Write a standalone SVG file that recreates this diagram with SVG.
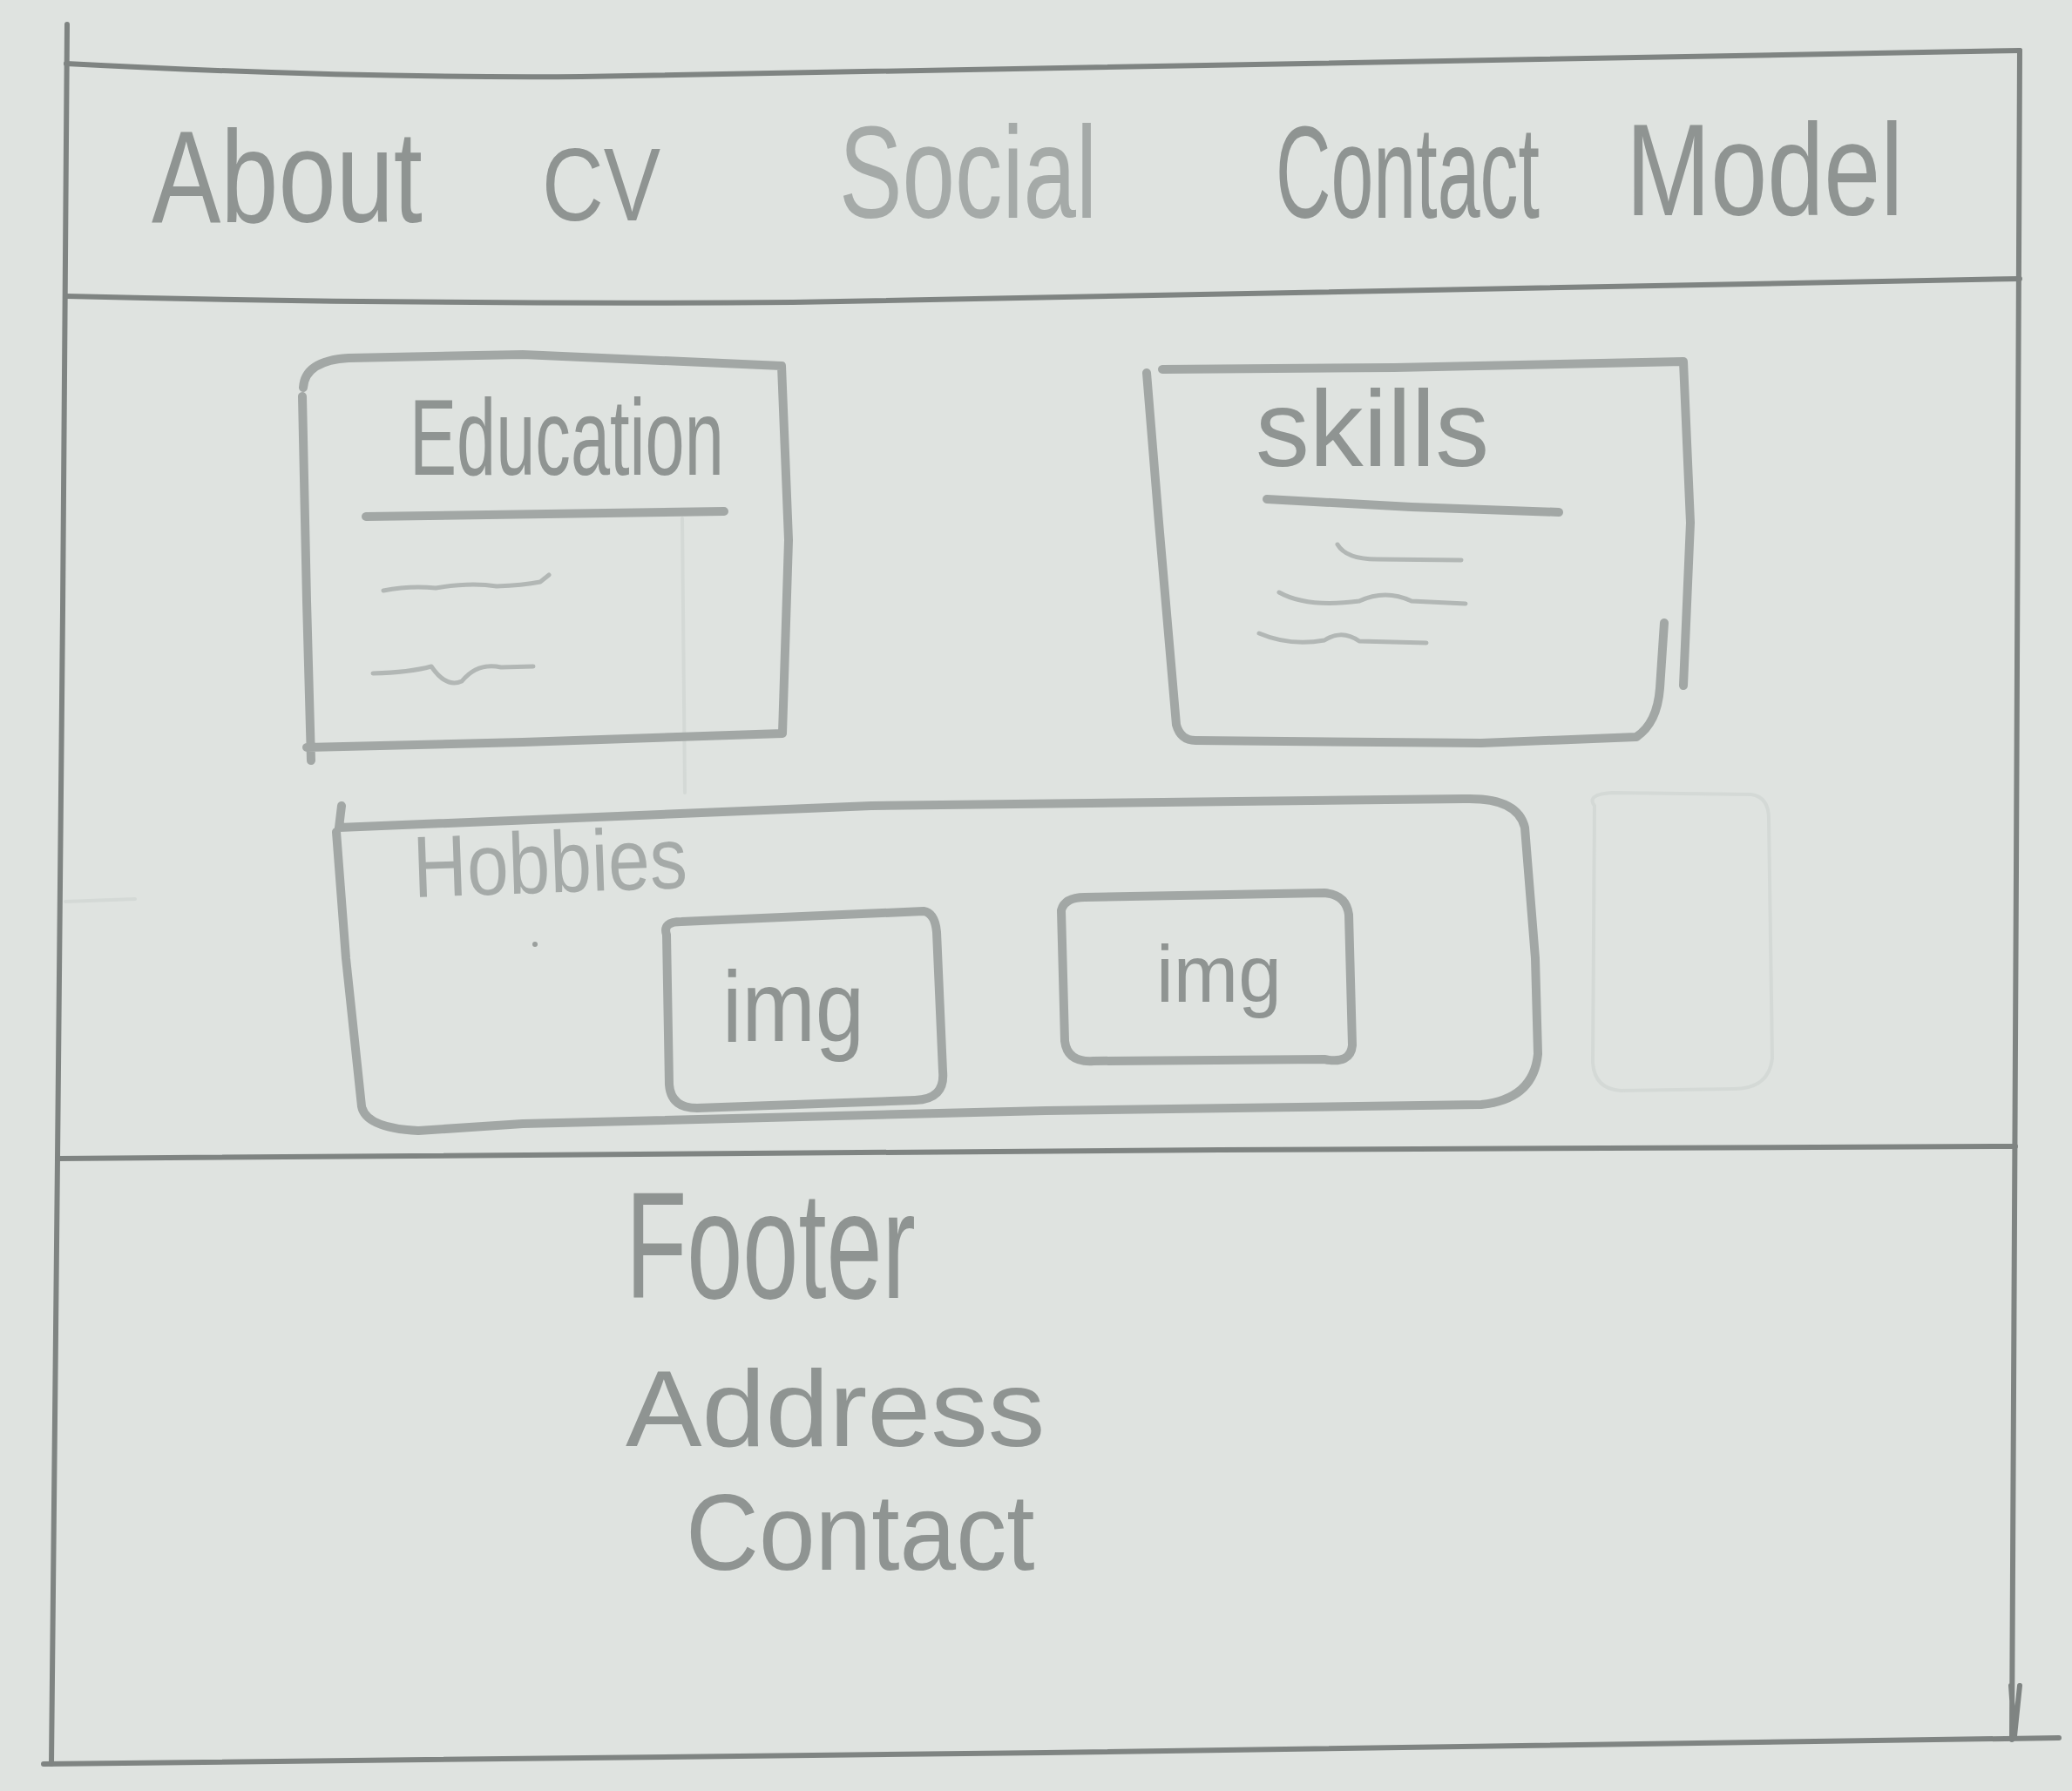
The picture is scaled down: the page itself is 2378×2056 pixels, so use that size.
<svg xmlns="http://www.w3.org/2000/svg" width="2378" height="2056" viewBox="0 0 2378 2056">
<style>
.frame{fill:none;stroke:#7f8482;stroke-width:6;stroke-linecap:round;stroke-linejoin:round}
.box{fill:none;stroke:#a2a7a5;stroke-width:10;stroke-linecap:round;stroke-linejoin:round}
.thin{fill:none;stroke:#b2b7b5;stroke-width:5;stroke-linecap:round;stroke-linejoin:round}
.faint{fill:none;stroke:#d4d9d6;stroke-width:4;stroke-linecap:round}
.t{font-family:"Liberation Sans","DejaVu Sans",sans-serif;fill:#8f9492}
.tl{font-family:"Liberation Sans","DejaVu Sans",sans-serif;fill:#a5aaa8}
</style>
<rect x="0" y="0" width="2378" height="2056" fill="#dfe3e0"/>
<g id="faint-marks">
<path class="faint" d="M1830,925 Q1820,912 1850,910 L2010,912 Q2030,915 2030,940 L2034,1215 Q2030,1250 1990,1250 L1860,1252 Q1830,1250 1828,1220 Z"/>
<path class="faint" d="M783,595 L786,910"/>
<path class="faint" d="M75,1035 L155,1032"/>
</g>
<g id="page-frame">
<path class="frame" d="M77,28 L72,700 L66,1330 L59,2025"/>
<path class="frame" stroke-width="9" d="M76,73 Q400,90 667,88 Q1500,70 2318,58"/>
<path class="frame" d="M2318,58 L2314,1000 L2309,1997 M2308,1935 L2312,1993 L2318,1935"/>
<path class="frame" d="M50,2025 L1200,2012 L2363,1995"/>
</g>
<g id="header">
<path class="frame" stroke="#9a9f9d" stroke-width="9" d="M76,340 Q500,350 910,347 Q1600,336 2318,320"/>
<text class="t" font-size="150" transform="translate(174,255) scale(0.793,1)">About</text>
<text class="t" font-size="118" transform="translate(622,253) scale(0.83,1)">CV</text>
<text class="tl" font-size="150" transform="translate(963,250) scale(0.725,1)">Social</text>
<text class="t" font-size="150" transform="translate(1464,250) scale(0.586,1)">Contact</text>
<text class="t" font-size="150" transform="translate(1866,247) scale(0.779,1)">Model</text>
</g>
<g id="education">
<path class="box" d="M348,445 Q350,414 400,411 L600,407 L897,420 L905,620 L898,842 L600,852 L352,858 M347,455 L352,690 L357,873"/>
<text class="t" font-size="125" transform="translate(470,545) scale(0.649,1)">Education</text>
<path class="box" d="M420,593 L831,587"/>
<path class="thin" d="M440,678 Q470,672 500,675 Q540,668 570,673 Q600,672 620,668 L630,660"/>
<path class="thin" d="M428,773 Q470,772 495,765 Q512,790 530,782 Q548,760 575,766 L612,765"/>
</g>
<g id="skills">
<path class="box" d="M1334,424 L1600,422 L1932,415 L1940,600 L1932,787 M1316,428 L1330,600 L1350,832 Q1355,850 1372,850 L1700,853 L1878,846 Q1902,830 1905,790 L1910,715"/>
<text class="t" font-size="125" transform="translate(1441,535) scale(0.99,1)">skills</text>
<path class="box" d="M1454,573 L1620,582 L1789,588"/>
<path class="thin" d="M1535,625 Q1545,642 1580,642 L1677,643"/>
<path class="thin" d="M1468,680 Q1500,698 1560,690 Q1590,676 1620,690 L1682,693"/>
<path class="thin" d="M1445,727 Q1480,742 1520,735 Q1540,722 1560,736 L1637,738"/>
</g>
<g id="hobbies">
<path class="box" d="M392,925 L389,950 L1000,925 L1680,917 Q1742,915 1750,950 L1762,1100 L1765,1210 Q1760,1262 1700,1268 L1200,1275 L600,1290 L480,1298 Q420,1295 415,1270 L397,1100 L386,955"/>
<text class="tl" font-size="100" transform="translate(475,1030) rotate(-2) scale(0.858,1)">Hobbies</text>
<circle cx="614" cy="1084" r="3" fill="#9a9f9d"/>
</g>
<g id="img1">
<path class="box" d="M765,1073 Q760,1058 782,1058 L1060,1046 Q1073,1048 1075,1070 L1082,1230 Q1085,1262 1050,1263 L800,1272 Q770,1272 768,1245 Z"/>
<text class="t" font-size="115" transform="translate(829,1195) scale(0.88,1)">img</text>
</g>
<g id="img2">
<path class="box" d="M1218,1045 Q1222,1030 1245,1030 L1520,1025 Q1545,1027 1548,1050 L1552,1200 Q1550,1222 1520,1216 L1255,1218 Q1225,1220 1222,1195 Z"/>
<text class="t" font-size="92" transform="translate(1327,1150) scale(0.97,1)">img</text>
</g>
<g id="footer">
<path class="frame" stroke="#9a9f9d" stroke-width="8" d="M66,1330 Q900,1322 1400,1320 Q1900,1319 2313,1316"/>
<text class="t" font-size="175" transform="translate(718,1490) scale(0.658,1)">Footer</text>
<text class="t" font-size="125" transform="translate(718,1660) scale(1.05,1)">Address</text>
<text class="t" font-size="125" transform="translate(787,1802) scale(0.93,1)">Contact</text>
</g>
<g id="connectors"/>
</svg>
